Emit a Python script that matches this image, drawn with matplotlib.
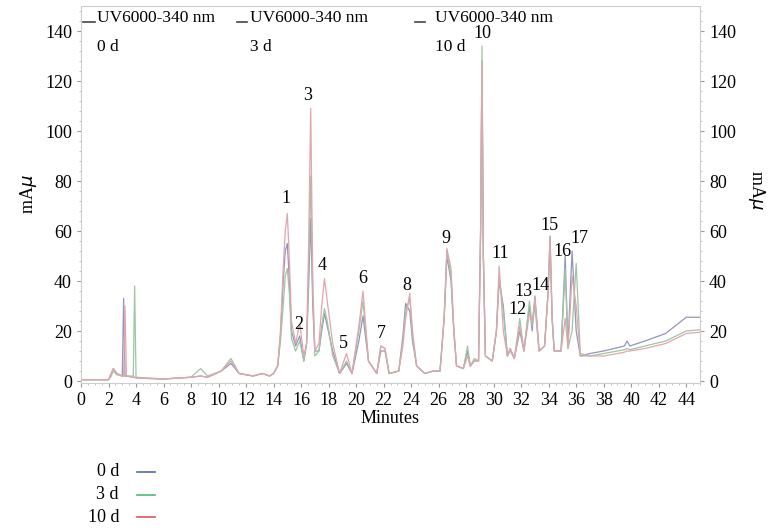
import matplotlib
matplotlib.use("Agg")
import matplotlib.pyplot as plt
from matplotlib.ticker import MultipleLocator
from matplotlib.lines import Line2D

plt.rcParams['font.family'] = ['Liberation Serif', 'DejaVu Serif']

# retention time (min) and absorbance (mAU)
t = [0.0, 2.0, 2.2, 2.35, 2.6, 3.0, 3.1, 3.2, 3.3, 3.8, 3.9, 4.0, 6.0, 8.0, 8.7, 9.2, 10.2, 10.9, 11.5, 12.5, 13.2, 13.7,
     14.0, 14.3, 14.5, 14.7, 14.85, 15.0, 15.15, 15.3, 15.6, 15.9, 16.2, 16.4, 16.55, 16.7, 16.85, 17.0, 17.3, 17.5, 17.7, 17.9, 18.3, 18.8,
     19.3, 19.7, 20.2, 20.5, 20.9, 21.5, 21.8, 22.1, 22.4, 23.1, 23.4, 23.6, 23.9, 24.1, 24.4, 25.0,
     25.6, 26.1, 26.4, 26.6, 26.9, 27.1, 27.3, 27.8, 28.1, 28.3, 28.6, 28.9, 29.05, 29.15, 29.25, 29.4, 29.9,
     30.2, 30.4, 30.7, 31.0, 31.2, 31.5, 31.9, 32.2, 32.6, 32.8, 33.0, 33.3, 33.7, 33.95, 34.1, 34.25, 34.4, 34.9, 35.2, 35.4, 35.7, 36.0, 36.3,
     37.0, 38.0, 39.5, 39.7, 39.9, 41.0, 42.5, 44.0, 45.0]
d0 = [0.5, 0.5, 3, 5, 3, 2, 33, 2, 2, 1.5, 1.5, 1.2, 0.8, 1.5, 2, 1.5, 4, 7, 3, 2, 3, 2,
      3, 6, 18, 40, 52, 55, 40, 20, 14, 18, 8, 15, 38, 65, 30, 12, 12, 20, 27, 22, 12, 3,
      7, 3, 16, 26, 8, 3, 12, 12, 3, 4, 18, 31, 28, 16, 6, 3,
      4, 4, 25, 50, 40, 20, 6, 5, 12, 6, 8, 8, 60, 128, 50, 10, 8,
      20, 40, 30, 10, 13, 9, 20, 12, 30, 20, 34, 12, 14, 35, 58, 25, 12, 12, 50, 14, 52, 20, 10,
      11, 12, 14, 16, 14, 16, 19, 25.5, 25.5]
d3 = [0.5, 0.5, 2, 4, 2.5, 2, 2, 2, 2, 2, 38, 1.5, 0.8, 1.5, 5, 2, 4, 9, 3, 2, 3, 2,
      3, 6, 16, 30, 42, 45, 35, 17, 12, 16, 8, 15, 45, 82, 35, 10, 12, 22, 29, 24, 10, 3,
      8, 3, 20, 32, 8, 3, 14, 13, 3, 4, 16, 28, 33, 18, 6, 3,
      4, 4, 25, 52, 42, 20, 6, 5, 14, 6, 9, 8, 60, 134, 50, 10, 8,
      20, 42, 28, 10, 12, 9, 25, 12, 32, 22, 30, 12, 14, 35, 55, 25, 12, 12, 45, 13, 20, 47, 11,
      10, 11, 12.5, 13, 12.5, 14, 16, 20, 20.5]
d10 = [0.5, 0.5, 3, 5, 3, 2, 2, 30, 2, 1.5, 1.5, 1.2, 0.8, 1.5, 2, 1.5, 4, 8, 3, 2, 3, 2,
       3, 6, 20, 45, 60, 67, 48, 24, 15, 23, 10, 15, 55, 109, 40, 12, 15, 30, 41, 32, 15, 3,
       11, 3, 22, 36, 8, 3, 14, 13, 3, 4, 14, 25, 35, 20, 6, 3,
       4, 4, 25, 53, 45, 22, 6, 5, 10, 6, 8, 8, 60, 127, 50, 10, 8,
       20, 46, 20, 10, 13, 9, 22, 12, 27, 24, 33, 12, 14, 35, 57, 25, 12, 12, 25, 13, 42, 30, 10,
       10, 10, 11.5, 12, 12, 13, 15, 19, 19.5]

peak_labels = [str(i) for i in range(1, 18)]
peak_t = [14.9, 15.8, 16.5, 17.5, 19.1, 20.5, 21.8, 23.7, 26.5, 29.15, 30.5, 31.7,
          32.2, 33.4, 34.05, 35.0, 36.2]
peak_y = [73, 22.5, 114, 46, 15, 41, 19, 38, 57, 139, 51, 28.4, 35.7, 38, 62, 52, 57]

series = ['0 d', '3 d', '10 d']
trace_colors = ['#9494bc', '#a0c4a4', '#e0a6ae']
key_colors = ['#5a66b0', '#4fb878', '#e05555']

fig = plt.figure(figsize=(7.68, 5.31), dpi=100)
ax = fig.add_axes([81 / 768, 1 - 383 / 531, 619 / 768, 377 / 531])

for y, c in zip([d0, d3, d10], trace_colors):
    ax.plot(t, y, color=c, lw=0.9)

for lab, x, y in zip(peak_labels, peak_t, peak_y):
    ax.text(x, y, lab, ha='center', va='center', fontsize=13)

ax.set_xlim(0, 45)
ax.set_ylim(-0.8, 150)
ax.set_xticks(range(0, 45, 2))
ax.set_yticks(range(0, 141, 20))
ax.xaxis.set_minor_locator(MultipleLocator(0.5))
ax.yaxis.set_minor_locator(MultipleLocator(4))
ax.tick_params(axis='both', which='major', labelsize=13, length=3, color='#999999', width=0.8)
ax.tick_params(axis='both', which='minor', length=1.5, color='#bbbbbb', width=0.6)
ax.tick_params(axis='y', which='both', right=True, labelright=True)
ax.tick_params(axis='x', which='both', top=False)
for s in ax.spines.values():
    s.set_color('#cccccc')
    s.set_linewidth(0.8)

ax.set_xlabel('Minutes', fontsize=13, labelpad=1)
ax.set_ylabel('mA$\\mu$', fontsize=13)
fig.text(757 / 768, 1 - 190 / 531, 'mA$\\mu$', rotation=270, ha='center', va='center', fontsize=13)

# top trace keys
for x0, x1 in [(83, 95), (237, 247), (415, 425)]:
    fig.add_artist(Line2D([x0 / 768, x1 / 768], [1 - 22 / 531] * 2, color='#444444', lw=1.2))
for xt, lab in zip([97, 250, 435], series):
    fig.text(xt / 768, 1 - 18 / 531, 'UV6000-340 nm', ha='left', va='center', fontsize=12.5)
    fig.text(xt / 768, 1 - 47 / 531, lab, ha='left', va='center', fontsize=12.5)

# bottom colour key
for i, (lab, c) in enumerate(zip(series, key_colors)):
    yk = 1 - (472 + 22.5 * i) / 531
    fig.text(119 / 768, yk, lab, ha='right', va='center', fontsize=13)
    fig.add_artist(Line2D([137 / 768, 155 / 768], [yk, yk], color=c, lw=1.2))

fig.savefig('out.png', dpi=100)
